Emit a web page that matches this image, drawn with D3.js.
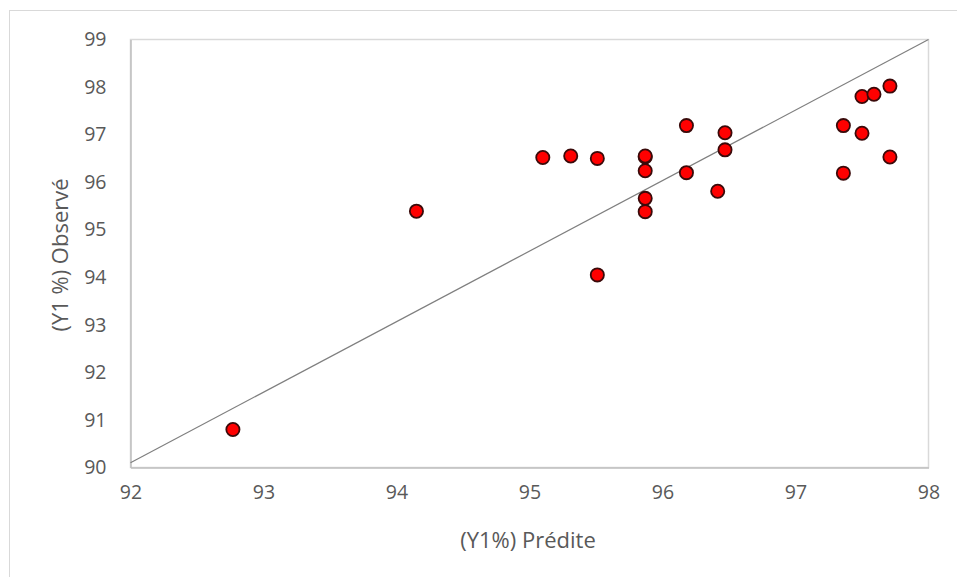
<!DOCTYPE html>
<html>
<head>
<meta charset="utf-8">
<script src="https://cdn.jsdelivr.net/npm/d3@7"></script>
<style>
  body { margin: 0; background: #fff; }
  svg text { font-family: "Open Sans", Lato, sans-serif; fill: #595959; }
</style>
</head>
<body>
<svg id="chart"></svg>
<script>
// valeurs prédites (x) et observées (y)
const predite = [92.77, 94.15, 95.10, 95.31, 95.51, 95.51, 95.87, 95.87, 95.87, 95.87, 95.87,
                 96.18, 96.18, 96.415, 96.47, 96.47, 97.36, 97.36, 97.50, 97.50, 97.59, 97.71, 97.71];
const observe = [90.80, 95.39, 96.52, 96.55, 96.50, 94.05, 96.53, 96.55, 96.24, 95.66, 95.38,
                 97.19, 96.20, 95.81, 97.04, 96.68, 97.19, 96.19, 97.03, 97.80, 97.85, 98.02, 96.53];
// ligne de référence
const ligneX = [92, 98];
const ligneY = [90.1, 99];
const xTicks = [92, 93, 94, 95, 96, 97, 98];
const yTicks = [90, 91, 92, 93, 94, 95, 96, 97, 98, 99];

const W = 957, H = 577;
const margin = { top: 39.5, right: 28.5, bottom: 109.5, left: 130.5 };
const width = W - margin.left - margin.right;
const height = H - margin.top - margin.bottom;

const svg = d3.select("#chart").attr("width", W).attr("height", H);

// cadre extérieur
svg.append("rect")
  .attr("x", 9.5).attr("y", 10.5)
  .attr("width", W).attr("height", H)
  .attr("fill", "none").attr("stroke", "#d9d9d9");

const g = svg.append("g").attr("transform", `translate(${margin.left},${margin.top})`);

const x = d3.scaleLinear().domain([92, 98]).range([0, width]);
const y = d3.scaleLinear().domain([90, 99]).range([height, 0]);

// bordure de la zone de tracé
g.append("rect")
  .attr("width", width).attr("height", height)
  .attr("fill", "none").attr("stroke", "#d9d9d9").attr("stroke-width", 1.5);

const xAxis = g.append("g")
  .attr("transform", `translate(0,${height})`)
  .call(d3.axisBottom(x).tickValues(xTicks).tickSize(0).tickPadding(18).tickFormat(d3.format("d")));
xAxis.select(".domain").attr("stroke", "#bfbfbf").attr("stroke-width", 1.5);
xAxis.selectAll("text").style("font-size", "19.5px");

const yAxis = g.append("g")
  .call(d3.axisLeft(y).tickValues(yTicks).tickSize(0).tickPadding(24).tickFormat(d3.format("d")));
yAxis.select(".domain").attr("stroke", "#bfbfbf").attr("stroke-width", 1.5);
yAxis.selectAll("text").style("font-size", "19.5px");

// ligne diagonale
g.append("path")
  .datum(d3.zip(ligneX, ligneY))
  .attr("fill", "none")
  .attr("stroke", "#7f7f7f")
  .attr("stroke-width", 1.2)
  .attr("d", d3.line().x(d => x(d[0])).y(d => y(d[1])));

// points
g.selectAll(".pt")
  .data(d3.zip(predite, observe))
  .enter().append("circle")
  .attr("class", "pt")
  .attr("cx", d => x(d[0]))
  .attr("cy", d => y(d[1]))
  .attr("r", 6.6)
  .attr("fill", "#ff0000")
  .attr("stroke", "#3a0a0a")
  .attr("stroke-width", 1.8);

svg.append("text")
  .attr("x", 528).attr("y", 548)
  .attr("text-anchor", "middle")
  .style("font-size", "22px")
  .text("(Y1%) Prédite");

svg.append("text")
  .attr("transform", "rotate(-90)")
  .attr("x", -255).attr("y", 68)
  .attr("text-anchor", "middle")
  .style("font-size", "22px")
  .text("(Y1 %) Observé");
</script>
</body>
</html>
